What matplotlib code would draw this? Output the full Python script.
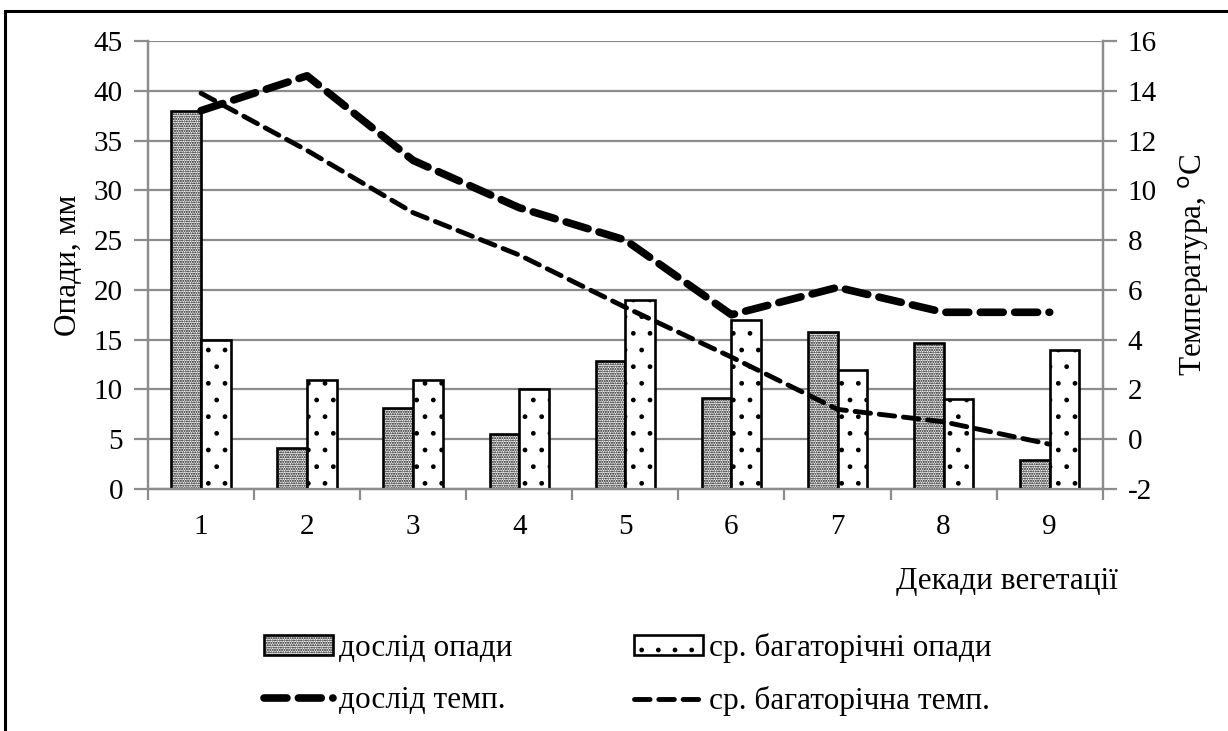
import numpy as np
import matplotlib
matplotlib.use("Agg")
import matplotlib.pyplot as plt
from matplotlib.patches import Rectangle

# decades of the growing season
decades = [1, 2, 3, 4, 5, 6, 7, 8, 9]

# precipitation, mm
dosl_opady = [38, 4.1, 8.1, 5.5, 12.9, 9.1, 15.8, 14.7, 2.9]
avg_opady = [15, 11, 11, 10, 19, 17, 12, 9, 14]

# temperature, C
dosl_temp = [13.2, 14.6, 11.2, 9.3, 8.0, 5.0, 6.1, 5.1, 5.1]
avg_temp = [13.9, 11.6, 9.1, 7.4, 5.3, 3.3, 1.2, 0.7, -0.2]

labels = ["дослід опади", "ср. багаторічні опади", "дослід темп.", "ср. багаторічна темп."]

plt.rcParams['font.family'] = ['Liberation Serif', 'DejaVu Serif']
plt.rcParams['font.size'] = 21
plt.rcParams['hatch.linewidth'] = 1.0
plt.rcParams['axes.unicode_minus'] = False

grey = '#8c8c8c'
txt_size = 22.5

fig = plt.figure(figsize=(12.28, 7.31), dpi=100)
ax = fig.add_axes([0.1205, 0.331, 0.7775, 0.613])
ax2 = ax.twinx()

x = np.arange(len(decades))
w = 0.28
b1 = ax.bar(x - w / 2, dosl_opady, w, color='white', edgecolor='black', linewidth=1.9,
            hatch='.......', zorder=3)
b2 = ax.bar(x + w / 2, avg_opady, w, color='white', edgecolor='black', linewidth=1.9,
            hatch='.', zorder=3)

l1, = ax2.plot(x, dosl_temp, color='black', lw=5.5, dashes=(3.0, 1.5), dash_capstyle='round')
l2, = ax2.plot(x, avg_temp, color='black', lw=3.5, dashes=(3.2, 1.8), dash_capstyle='round')

# left axis
ax.set_ylim(0, 45)
ax.set_yticks(np.arange(0, 46, 5))
ax.set_xlim(-0.5, len(decades) - 0.5)
ax.grid(axis='y', color=grey, lw=1.6, zorder=0)
ax.set_axisbelow(True)
ax.set_ylabel("Опади, мм", labelpad=8, fontsize=txt_size)

# right axis
ax2.set_ylim(-2, 16)
ax2.set_yticks(np.arange(-2, 17, 2))
ax2.set_ylabel("Температура, $^{\\mathrm{o}}$С", labelpad=14, fontsize=txt_size)

# x ticks: labels at centres, marks between groups
ax.set_xticks(x)
ax.set_xticklabels([str(d) for d in decades])
ax.set_xticks(np.arange(-0.5, len(decades), 1), minor=True)
ax.tick_params(axis='x', which='major', length=0, pad=18)
ax.tick_params(axis='x', which='minor', length=8, width=1.6, color=grey)
ax.tick_params(axis='y', length=10, width=1.6, color=grey, pad=8)
ax2.tick_params(axis='y', length=10, width=1.6, color=grey, pad=8)

for a in (ax, ax2):
    a.spines['top'].set_visible(False)
    for s in ('left', 'right', 'bottom'):
        a.spines[s].set_color(grey)
        a.spines[s].set_linewidth(1.6)

fig.text(0.910, 0.204, "Декади вегетації", ha='right', va='center', fontsize=txt_size)

fig.legend([b1, l1, b2, l2], [labels[0], labels[2], labels[1], labels[3]],
           ncol=2, loc='center left', prop={'size': txt_size},
           bbox_to_anchor=(0.192, 0.077), frameon=False, handlelength=2.2,
           handleheight=0.6, handletextpad=0.2, columnspacing=3.9, labelspacing=0.75)

# outer frame of the original figure
fig.add_artist(Rectangle((0.004, -0.05), 1.2, 1.035, transform=fig.transFigure,
                         fill=False, edgecolor='black', lw=2.2))

fig.savefig("out.png", dpi=100)
